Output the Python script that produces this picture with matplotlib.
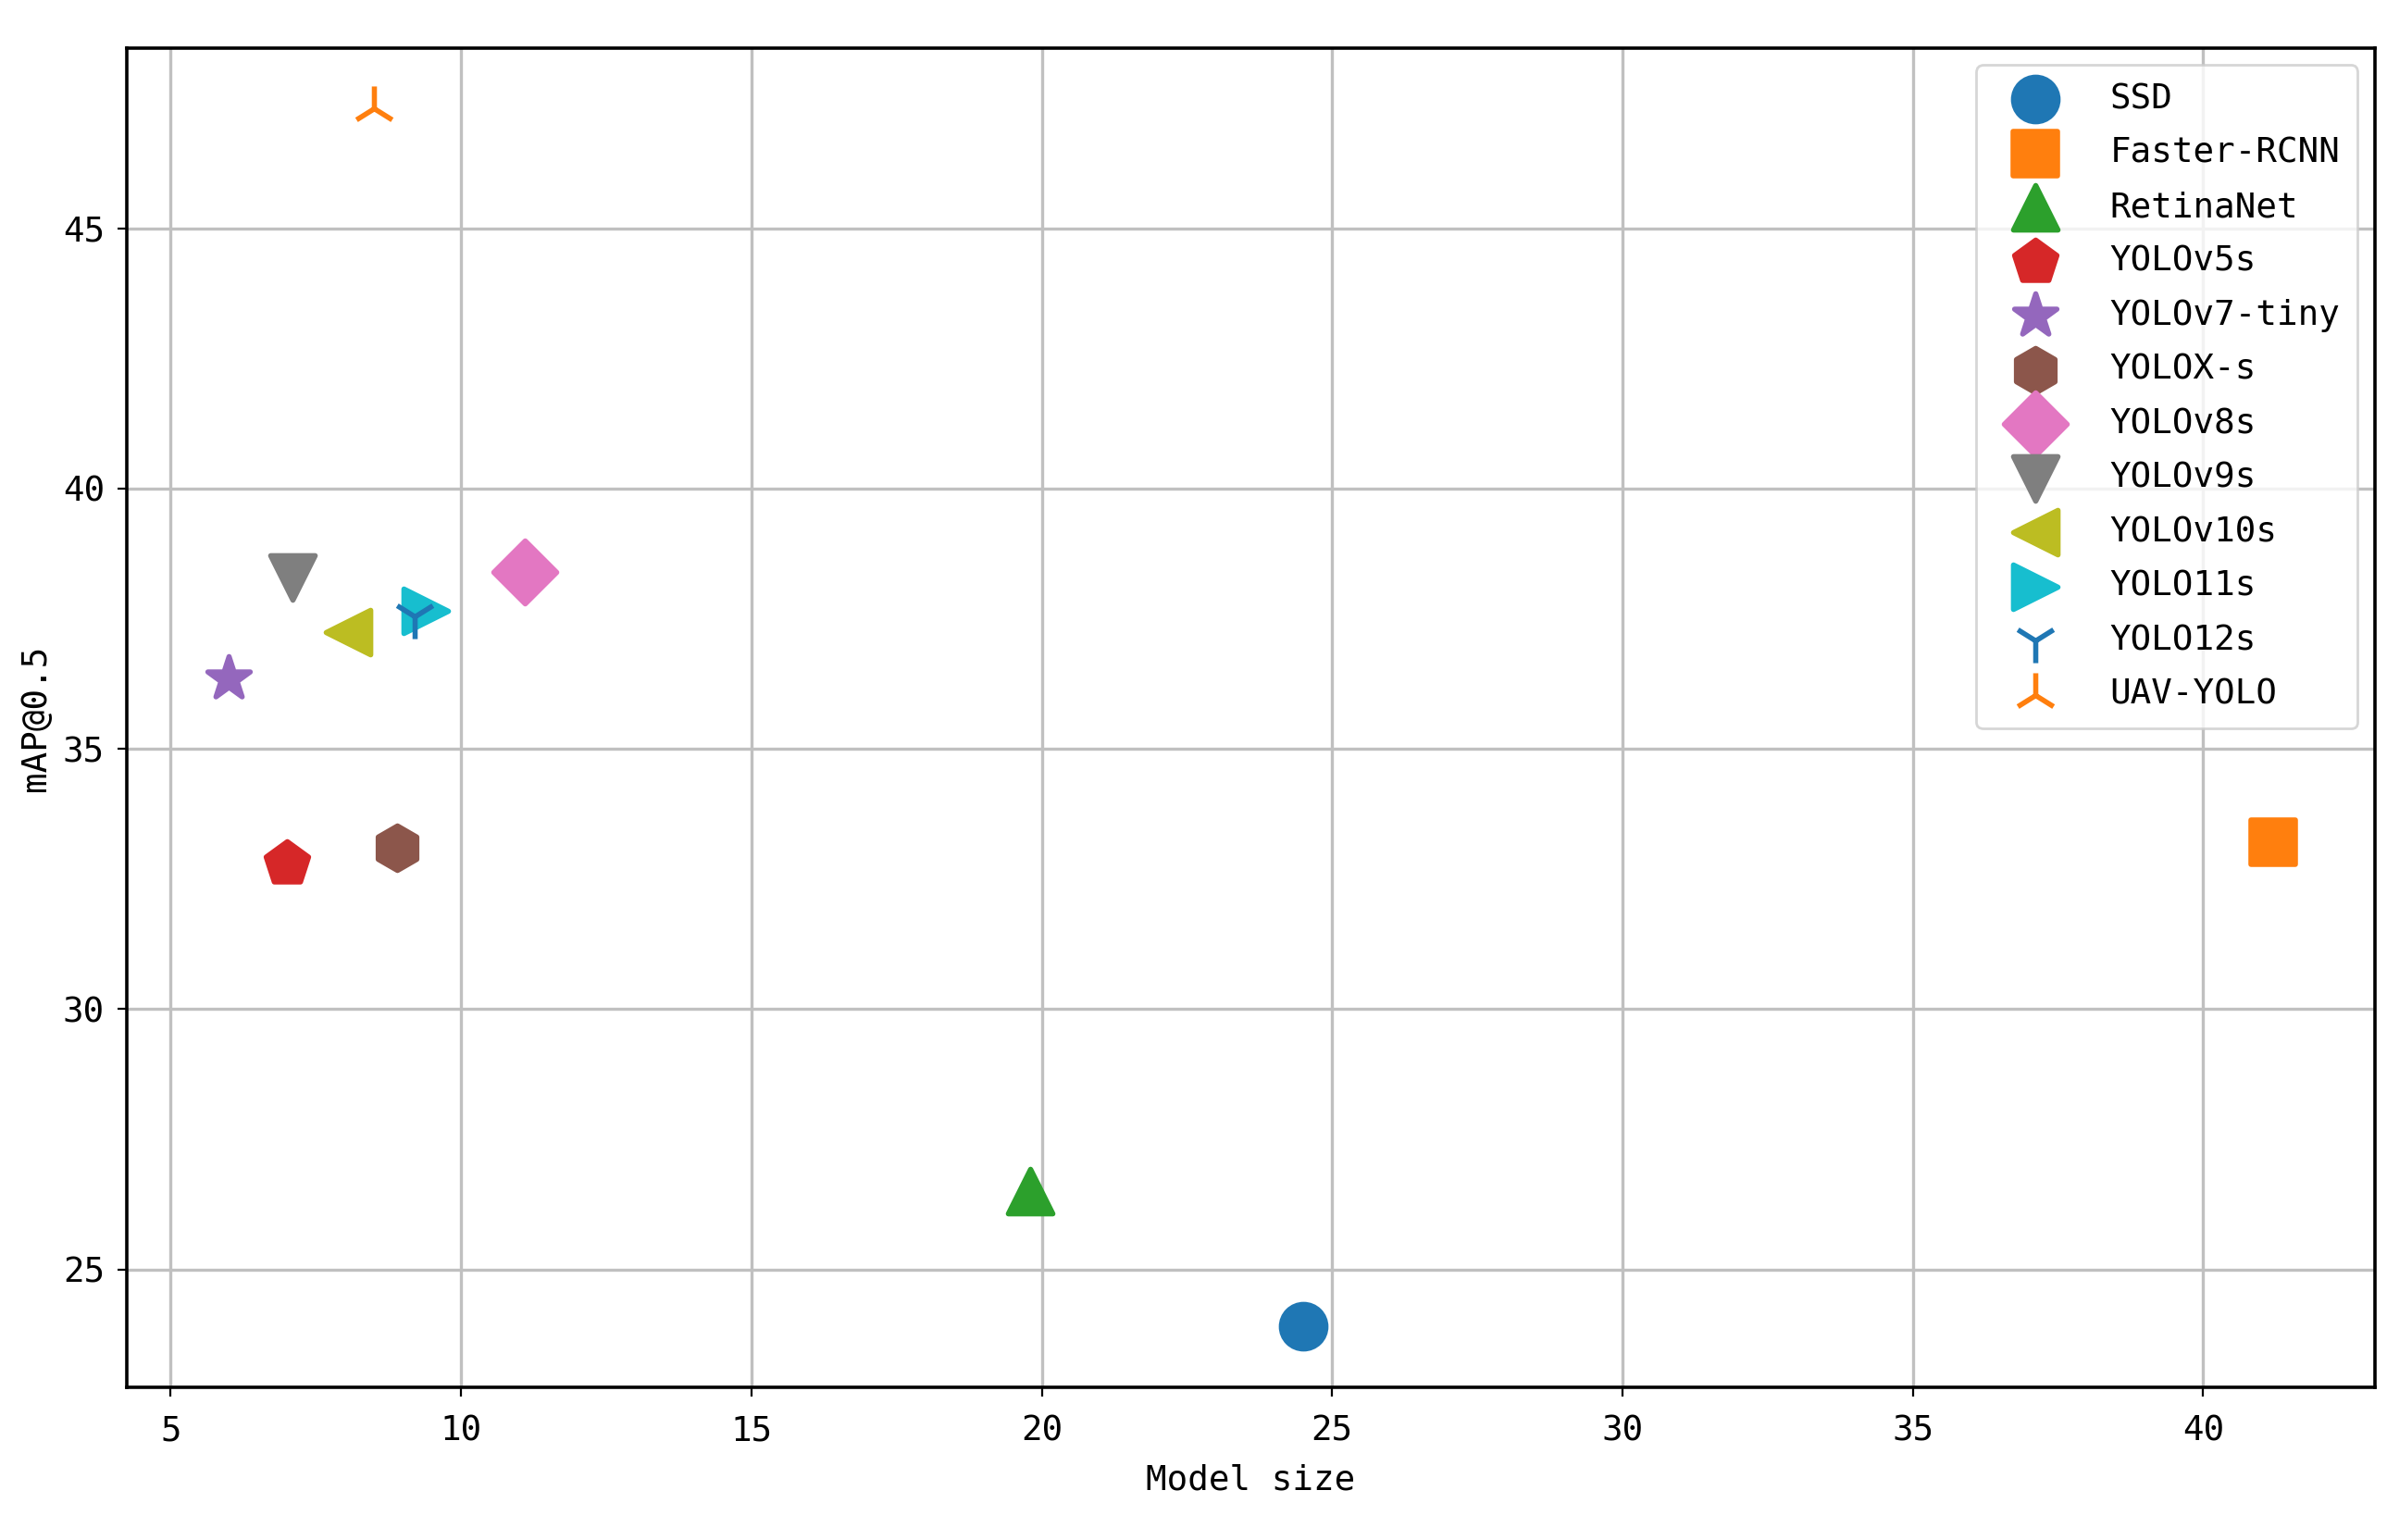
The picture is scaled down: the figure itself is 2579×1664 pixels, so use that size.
import matplotlib
matplotlib.use('Agg')
import matplotlib.pyplot as plt

# datos
modelos = ['SSD', 'Faster-RCNN', 'RetinaNet', 'YOLOv5s', 'YOLOv7-tiny', 'YOLOX-s',
           'YOLOv8s', 'YOLOv9s', 'YOLOv10s', 'YOLO11s', 'YOLO12s', 'UAV-YOLO']
tamano = [24.5, 41.2, 19.8, 7.0, 6.0, 8.9, 11.1, 7.1, 8.05, 9.4, 9.2, 8.5]
map50 = [23.9, 33.2, 26.5, 32.8, 36.35, 33.1, 38.4, 38.3, 37.25, 37.65, 37.55, 47.3]
marcadores = ['o', 's', '^', 'p', '*', 'h', 'D', 'v', '<', '>', '1', '2']
colores = ['C0', 'C1', 'C2', 'C3', 'C4', 'C5', 'C6', 'C7', 'C8', 'C9', 'C0', 'C1']

plt.rcParams['font.family'] = ['DejaVu Sans Mono']
plt.rcParams['font.size'] = 13.5

fig, ax = plt.subplots(figsize=(12.895, 8.32), dpi=200)
fig.subplots_adjust(left=0.053, right=0.995, top=0.969, bottom=0.099)

for nombre, x, y, m, c in zip(modelos, tamano, map50, marcadores, colores):
    ax.scatter(x, y, s=300, marker=m, color=c, label=nombre, linewidths=2)

ax.set_xlabel('Model size', labelpad=6)
ax.set_ylabel('mAP@0.5')
ax.tick_params(axis='x', pad=7)
ax.tick_params(axis='y', pad=5)
ax.grid(True, color='#c0c0c0', linewidth=1.2)
ax.set_axisbelow(True)
for sp in ax.spines.values():
    sp.set_linewidth(1.3)

ax.legend(loc='upper right', labelspacing=0.6, handlelength=2.4, handletextpad=0.95,
          borderpad=0.5)

fig.savefig('out.png', dpi=200)
